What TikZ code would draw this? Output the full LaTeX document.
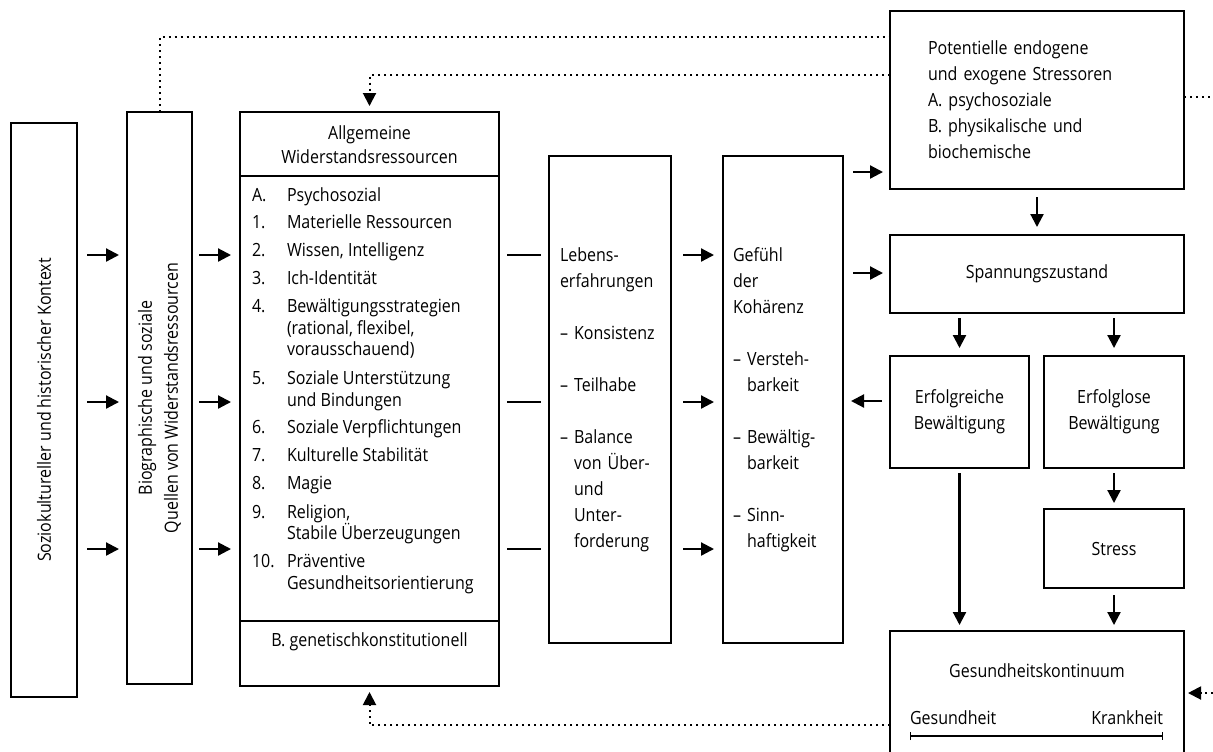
\documentclass[tikz,border=0pt]{standalone}
\usepackage{fontspec}
\setmainfont{Open Sans}[FakeStretch=0.88]
\usetikzlibrary{arrows.meta,positioning}

\begin{document}
\begin{tikzpicture}[
        x=0.5pt, y=-0.5pt,
        every node/.style={
        font=\fontsize{9.1}{13}\selectfont,
        inner sep=0pt,
        outer sep=0pt},
    mybox/.style={
        draw=black,
        line width=1.15pt,
        anchor=north west},
    myarrow/.style={line width=1.1pt,-{Triangle[length=6.5pt,width=6.5pt]},
        shorten <=4pt, shorten >=4pt},
    myline/.style={line width=1.1pt, shorten <=4pt, shorten >=4pt},
    mydots/.style={line width=1pt, dotted},
    mydotarrow/.style={mydots,-{Triangle[length=6.5pt,width=6.5pt]}},
    item/.style={anchor=base west, font=\fontsize{9.1}{10.75}\selectfont}
    ]
    \useasboundingbox (0,0) rectangle (1213,751);
    \clip (0,0) rectangle (1213,751);

    % left column
    \node[mybox,minimum width=33pt,minimum height=287pt] (sozio) at (11,123) {};
    \node[rotate=90] (soziotxt) at (sozio.center) {Soziokultureller und historischer Kontext};
    \node[mybox,minimum width=32.5pt,minimum height=286pt] (bio) at (127,112) {};
    \node[rotate=90,align=center] (biotxt) at (bio.center)
        {Biographische und soziale\\Quellen von Widerstandsressourcen};

    % resources
    \node[mybox,minimum width=129.5pt,minimum height=287pt] (allg) at (240,112) {};
    \draw[line width=1.15pt] (allg.west |- 0,176) -- (allg.east |- 0,176);
    \draw[line width=1.15pt] (allg.west |- 0,621) -- (allg.east |- 0,621);
    \node[align=center,font=\fontsize{9.1}{12}\selectfont] (allghead) at (369.5,145)
        {Allgemeine\\Widerstandsressourcen};
    \foreach \y/\nr/\txt in {% baseline/number/text
        201/A./Psychosozial,
        228/1./Materielle Ressourcen,
        256/2./{Wissen, Intelligenz},
        284/3./Ich-Identität,
        312/4./Bewältigungsstrategien,
        334//{(rational, flexibel,},
        355//vorausschauend),
        384/5./Soziale Unterstützung,
        406//und Bindungen,
        433/6./Soziale Verpflichtungen,
        461/7./Kulturelle Stabilität,
        489/8./Magie,
        518/9./{Religion,},
        539//Stabile Überzeugungen,
        567/10./Präventive,
        589//Gesundheitsorientierung}
        {
        \node[item] (nr\y) at (252,\y) {\nr};
        \node[item] (txt\y) at (287,\y) {\txt};
        }
    \node[anchor=base] (genetisch) at (369.5,646) {B. genetischkonstitutionell};

    % middle boxes
    \node[mybox,minimum width=61pt,minimum height=243.5pt,text width=50pt,
        inner xsep=5.5pt,align=left] (leben) at (549,156)
        {Lebens-\\erfahrungen\\[13pt]– Konsistenz\\[13pt]– Teilhabe\\[13pt]– Balance\\
        \phantom{– }von Über-\\\phantom{– }und\\\phantom{– }Unter-\\\phantom{– }forderung};
    \node[mybox,minimum width=60pt,minimum height=243.5pt,text width=50pt,
        inner xsep=5pt,align=left] (gefuehl) at (723,156)
        {Gefühl\\der\\Kohärenz\\[13pt]– Versteh-\\\phantom{– }barkeit\\[13pt]– Bewältig-\\
        \phantom{– }barkeit\\[13pt]– Sinn-\\\phantom{– }haftigkeit};

    % right column
    \node[mybox,minimum width=147pt,minimum height=89pt,text width=109pt,
        inner xsep=19pt,align=left] (pot) at (890,11)
        {Potentielle endogene\\und exogene Stressoren\\A. psychosoziale\\B. physikalische und\\biochemische};
    \node[mybox,minimum width=147pt,minimum height=39pt] (spann) at (890,235) {Spannungszustand};
    \node[mybox,minimum width=69.5pt,minimum height=56pt,align=center] (erfolg) at (890,356)
        {Erfolgreiche\\Bewältigung};
    \node[mybox,minimum width=70pt,minimum height=56pt,align=center] (erfolglos) at (1044,356)
        {Erfolglose\\Bewältigung};
    \node[mybox,minimum width=70pt,minimum height=39.5pt] (stress) at (1044,509) {Stress};
    \node[mybox,minimum width=147pt,minimum height=75pt] (gesund) at (890,631) {};
    \node[anchor=base] (kontinuum) at (1037,677) {Gesundheitskontinuum};
    \node[anchor=base west] (gesundheit) at (910,724) {Gesundheit};
    \node[anchor=base east] (krankheit) at (1163,724) {Krankheit};
    \draw[line width=0.7pt,{Bar[width=4pt]}-{Bar[width=4pt]}]
        (gesundheit.west |- 0,736) -- (krankheit.east |- 0,736);

    % connectors
    \foreach \y in {255,402,549}
        {
        \draw[myarrow,shorten <=5pt] (sozio.east |- 0,\y) -- (bio.west |- 0,\y);
        \draw[myarrow,shorten <=3.5pt,shorten >=4.5pt] (bio.east |- 0,\y) -- (allg.west |- 0,\y);
        \draw[myline] (allg.east |- 0,\y) -- (leben.west |- 0,\y);
        \draw[myarrow,shorten <=6pt,shorten >=4.5pt] (leben.east |- 0,\y) -- (gefuehl.west |- 0,\y);
        }
    \draw[myarrow,shorten <=5pt,shorten >=3.5pt] (gefuehl.east |- 0,172) -- (pot.west |- 0,172);
    \draw[myarrow,shorten <=5pt,shorten >=3.5pt] (gefuehl.east |- 0,273) -- (spann.west |- 0,273);
    \draw[myarrow] (erfolg.west |- 0,401) -- (gefuehl.east |- 0,401);
    \draw[myarrow] (pot.south) -- (spann.north);
    \draw[myarrow,shorten <=2.5pt] (spann.south -| erfolg) -- (erfolg.north);
    \draw[myarrow,shorten <=2.5pt] (spann.south -| erfolglos) -- (erfolglos.north);
    \draw[myarrow,shorten <=2.5pt,shorten >=3pt] (erfolg.south) -- (gesund.north -| erfolg);
    \draw[myarrow,shorten <=2.5pt,shorten >=3pt] (erfolglos.south) -- (stress.north);
    \draw[myarrow,shorten <=3.5pt,shorten >=3pt] (stress.south) -- (gesund.north -| stress);

    % feedback lines
    \coordinate (exitR) at (1213,97);
    \coordinate (entryR) at (1213,693);
    \draw[mydots] (bio.north) |- ([yshift=-13pt]pot.north west);
    \draw[mydotarrow,shorten >=3pt] ([yshift=-32pt]pot.north west) -| (allg.north);
    \draw[mydots] ([yshift=-43pt]pot.north east) -- (exitR);
    \draw[mydotarrow,shorten >=3pt] ([yshift=-47pt]gesund.north west) -| (allg.south);
    \draw[mydotarrow,shorten >=2pt] (entryR) -- (gesund.east |- entryR);
\end{tikzpicture}
\end{document}
